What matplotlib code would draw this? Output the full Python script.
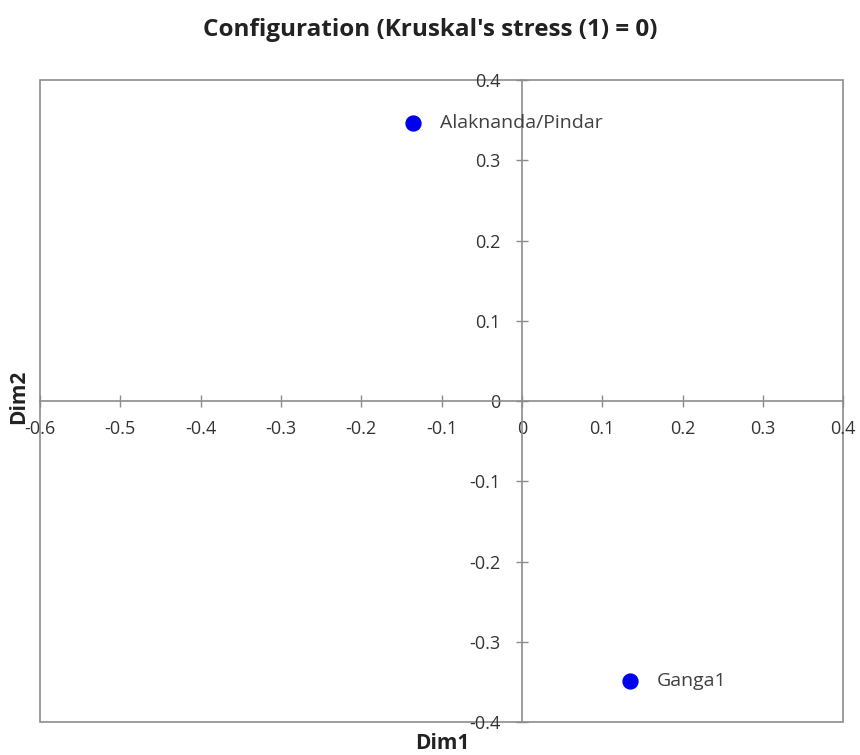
import numpy as np
import matplotlib.pyplot as plt
from matplotlib.patches import Rectangle
from matplotlib.ticker import FuncFormatter

# Data
labels = ['Alaknanda/Pindar', 'Ganga1']
dim1 = [-0.135, 0.135]
dim2 = [0.347, -0.349]
xticks = [-0.6, -0.5, -0.4, -0.3, -0.2, -0.1, 0, 0.1, 0.2, 0.3, 0.4]
yticks = [-0.4, -0.3, -0.2, -0.1, 0, 0.1, 0.2, 0.3, 0.4]

plt.rcParams['font.family'] = ['Open Sans', 'DejaVu Sans']

fig = plt.figure(figsize=(8.6, 7.55), dpi=100)
ax = fig.add_axes([0.0465, 0.0437, 0.934, 0.8503])

ax.scatter(dim1, dim2, s=115, color='#0000ee', zorder=3)
for x, y, lab in zip(dim1, dim2, labels):
    ax.annotate(lab, (x, y), xytext=(19, 0), textcoords='offset points',
                va='center', ha='left', fontsize=14, color='#404040')

ax.set_xlim(-0.6, 0.4)
ax.set_ylim(-0.4, 0.4)
ax.set_xticks(xticks)
ax.set_yticks(yticks)
fmt = FuncFormatter(lambda v, p: '%g' % round(v, 2))
ax.xaxis.set_major_formatter(fmt)
ax.yaxis.set_major_formatter(fmt)

# axes crossing at zero, Excel style
for side in ['top', 'right']:
    ax.spines[side].set_visible(False)
for side in ['left', 'bottom']:
    ax.spines[side].set_position(('data', 0))
    ax.spines[side].set_color('#8c8c8c')
    ax.spines[side].set_linewidth(1.2)
ax.tick_params(direction='inout', length=9, width=1, color='#8c8c8c',
               labelsize=13, labelcolor='#333333')
ax.tick_params(axis='x', pad=9)
ax.tick_params(axis='y', pad=11)

# plot area border
ax.add_patch(Rectangle((0, 0), 1, 1, transform=ax.transAxes, fill=False,
                       edgecolor='#8c8c8c', linewidth=1.2, clip_on=False))

fig.text(0.5, 0.96, "Configuration (Kruskal's stress (1) = 0)", ha='center',
         va='center', fontsize=17.5, fontweight='bold', color='#222222')
fig.text(0.514, 0.015, 'Dim1', ha='center', va='center', fontsize=15,
         fontweight='bold', color='#222222')
fig.text(0.022, 0.474, 'Dim2', ha='center', va='center', rotation=90,
         fontsize=15, fontweight='bold', color='#222222')

fig.savefig('out.png', dpi=100)
